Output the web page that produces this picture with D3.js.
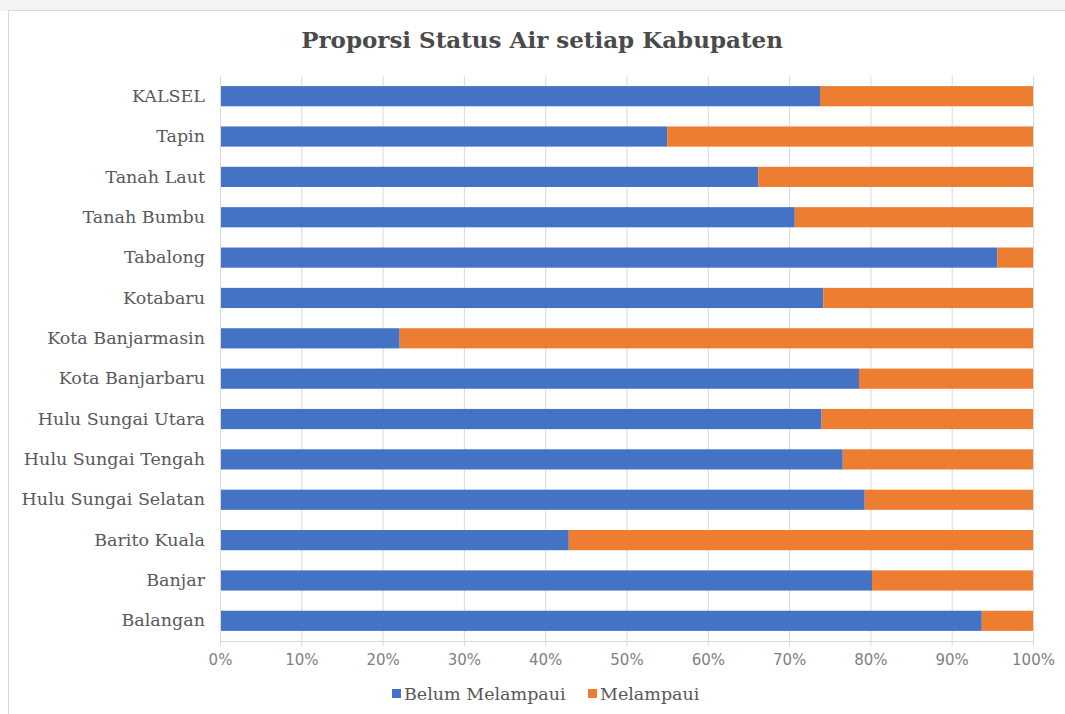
<!DOCTYPE html>
<html>
<head>
<meta charset="utf-8">
<script src="https://cdn.jsdelivr.net/npm/d3@7"></script>
<style>
  html, body { margin: 0; padding: 0; background: #fff; }
  svg { display: block; }
</style>
</head>
<body>
<script>
// categories, top to bottom
const kabupaten = [
  "KALSEL", "Tapin", "Tanah Laut", "Tanah Bumbu", "Tabalong", "Kotabaru",
  "Kota Banjarmasin", "Kota Banjarbaru", "Hulu Sungai Utara", "Hulu Sungai Tengah",
  "Hulu Sungai Selatan", "Barito Kuala", "Banjar", "Balangan"
];
// share "Belum Melampaui" (%)
const belumMelampaui = [73.8, 55.0, 66.2, 70.7, 95.6, 74.2, 22.1, 78.6, 74.0, 76.6, 79.3, 42.9, 80.2, 93.7];
// share "Melampaui" (%)
const melampaui = belumMelampaui.map(v => 100 - v);
const seriesNames = ["Belum Melampaui", "Melampaui"];
const seriesColors = ["#4472C4", "#ED7D31"];
const xTicks = [0, 10, 20, 30, 40, 50, 60, 70, 80, 90, 100];

const width = 1065, height = 714;
const margin = {top: 76, right: 32, bottom: 73, left: 220};

const svg = d3.select("body").append("svg")
  .attr("width", width)
  .attr("height", height);

// light strip at the very top + chart frame
svg.append("rect").attr("x", 0).attr("y", 0).attr("width", width).attr("height", 11).attr("fill", "#f4f4f4");
svg.append("rect").attr("x", 8.5).attr("y", 10.5).attr("width", width - 8).attr("height", height)
  .attr("fill", "#fff").attr("stroke", "#d9d9d9");

const x = d3.scaleLinear().domain([0, 100]).range([margin.left, width - margin.right]);
const y = d3.scaleBand().domain(kabupaten).range([margin.top, height - margin.bottom]).paddingInner(0.5).paddingOuter(0.25);

// gridlines
svg.append("g").selectAll("line")
  .data(xTicks)
  .join("line")
  .attr("x1", d => x(d) + 0.5).attr("x2", d => x(d) + 0.5)
  .attr("y1", margin.top).attr("y2", height - margin.bottom + 5)
  .attr("stroke", "#d9d9d9");

const rows = kabupaten.map((k, i) => ({k, a: belumMelampaui[i], b: melampaui[i]}));
const stacked = d3.stack().keys(["a", "b"])(rows);

svg.append("g").selectAll("g")
  .data(stacked)
  .join("g")
  .attr("fill", (d, i) => seriesColors[i])
  .selectAll("rect")
  .data(d => d)
  .join("rect")
  .attr("x", d => x(d[0]))
  .attr("width", d => x(d[1]) - x(d[0]))
  .attr("y", d => y(d.data.k))
  .attr("height", y.bandwidth());

// axes
svg.append("line")
  .attr("x1", x(0) + 0.5).attr("x2", x(0) + 0.5)
  .attr("y1", margin.top).attr("y2", height - margin.bottom)
  .attr("stroke", "#d9d9d9");
svg.append("line")
  .attr("x1", x(0)).attr("x2", x(100) + 1)
  .attr("y1", height - margin.bottom + 0.5).attr("y2", height - margin.bottom + 0.5)
  .attr("stroke", "#d9d9d9");

const xAxis = svg.append("g")
  .attr("transform", `translate(0,${height - margin.bottom})`)
  .call(d3.axisBottom(x).tickValues(xTicks).tickFormat(d => d + "%").tickSize(0).tickPadding(13));
xAxis.select(".domain").remove();
xAxis.selectAll("text")
  .attr("font-family", "DejaVu Sans")
  .attr("font-size", 15)
  .attr("fill", "#7f7f7f");

const yAxis = svg.append("g")
  .attr("transform", `translate(${margin.left},0)`)
  .call(d3.axisLeft(y).tickSize(0).tickPadding(15));
yAxis.select(".domain").remove();
yAxis.selectAll("text")
  .attr("font-family", "DejaVu Serif")
  .attr("font-size", 17.5)
  .attr("fill", "#595959");

// title
svg.append("text")
  .attr("x", 542).attr("y", 48)
  .attr("text-anchor", "middle")
  .attr("font-family", "DejaVu Serif")
  .attr("font-weight", "bold")
  .attr("font-size", 23)
  .attr("fill", "#4a4a4a")
  .text("Proporsi Status Air setiap Kabupaten");

// legend
const legendX = [392, 588];
const legend = svg.append("g").selectAll("g")
  .data(seriesNames)
  .join("g")
  .attr("transform", (d, i) => `translate(${legendX[i]},700)`);
legend.append("rect")
  .attr("x", 0).attr("y", -11).attr("width", 9).attr("height", 9)
  .attr("fill", (d, i) => seriesColors[i]);
legend.append("text")
  .attr("x", 12).attr("y", 0)
  .attr("font-family", "DejaVu Serif")
  .attr("font-size", 17.5)
  .attr("fill", "#595959")
  .text(d => d);
</script>
</body>
</html>
